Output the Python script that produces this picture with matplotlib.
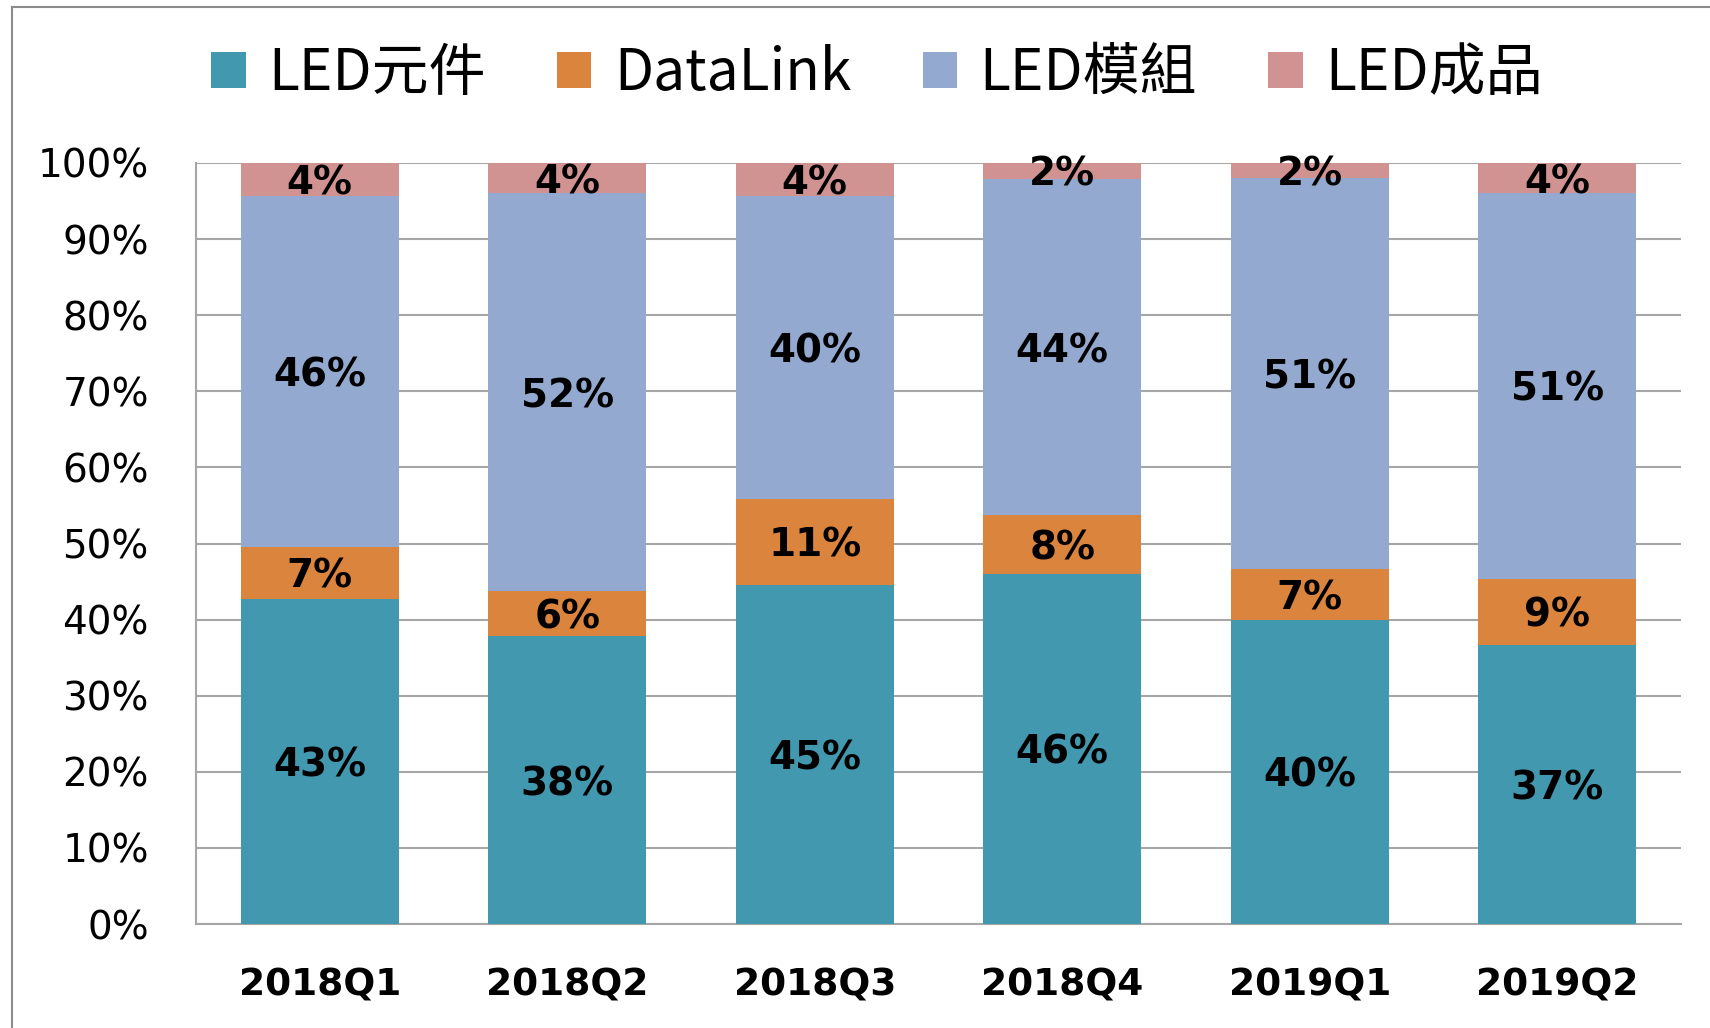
import matplotlib
matplotlib.use("Agg")
import matplotlib.pyplot as plt
import matplotlib.patches as patches
from matplotlib.lines import Line2D

# 各季營收比重 (%)
QUARTERS = ["2018Q1", "2018Q2", "2018Q3", "2018Q4", "2019Q1", "2019Q2"]
SERIES = ["LED元件", "DataLink", "LED模組", "LED成品"]
LED_PARTS = [42.7, 37.8, 44.6, 46.0, 40.0, 36.6]
DATALINK = [6.9, 5.9, 11.3, 7.7, 6.6, 8.8]
LED_MODULE = [46.1, 52.3, 39.8, 44.2, 51.4, 50.6]
LED_PRODUCT = [4.3, 4.0, 4.3, 2.1, 2.0, 4.0]
Y_TICKS = list(range(0, 101, 10))

COLORS = ["#4198AF", "#DB843D", "#93A9CF", "#D19392"]
GRID = "#A6A6A6"

plt.rcParams['font.family'] = ['DejaVu Sans', 'Noto Sans CJK TC']


def main():
    fig = plt.figure(figsize=(17.1, 10.28), dpi=100)
    ax = fig.add_axes([196 / 1710, 104 / 1028, 1485 / 1710, 761 / 1028])

    x = list(range(len(QUARTERS)))
    bottom = [0.0] * len(QUARTERS)
    handles = []
    for name, vals, col in zip(SERIES, [LED_PARTS, DATALINK, LED_MODULE, LED_PRODUCT], COLORS):
        ax.bar(x, vals, width=0.64, bottom=bottom, color=col, zorder=3, label=name)
        for xi, b, v in zip(x, bottom, vals):
            ax.text(xi, b + v / 2, "%.0f%%" % v, ha='center', va='center_baseline',
                    fontsize=28, fontweight='bold', color='black', zorder=4)
        bottom = [b + v for b, v in zip(bottom, vals)]
        handles.append(patches.Patch(facecolor=col, edgecolor='none', label=name))

    ax.set_xlim(-0.5, len(QUARTERS) - 0.5)
    ax.set_ylim(0, 100)
    ax.set_yticks(Y_TICKS)
    ax.set_yticklabels(["%d%%" % t for t in Y_TICKS], fontsize=28)
    ax.set_xticks(x)
    ax.set_xticklabels(QUARTERS, fontsize=27, fontweight='bold')
    ax.tick_params(axis='y', length=0, pad=34)
    ax.tick_params(axis='x', length=0, pad=31)
    ax.yaxis.grid(True, color=GRID, linewidth=1.5, zorder=0)
    ax.set_axisbelow(True)
    for side in ['top', 'right']:
        ax.spines[side].set_visible(False)
    for side in ['left', 'bottom']:
        ax.spines[side].set_color(GRID)
        ax.spines[side].set_linewidth(1.5)

    fig.legend(handles=handles, loc='center', bbox_to_anchor=(0.513, 0.928), ncol=4,
               frameon=False, prop={'family': ['Noto Sans CJK TC'], 'size': 41},
               handlelength=0.6, handleheight=0.6, handletextpad=0.4, columnspacing=1.25)

    # 外框
    fig.add_artist(Line2D([12 / 1710, 1.0], [1 - 7 / 1028, 1 - 7 / 1028], color='#8C8C8C', linewidth=1.5))
    fig.add_artist(Line2D([12 / 1710, 12 / 1710], [0.0, 1 - 7 / 1028], color='#8C8C8C', linewidth=1.5))

    fig.savefig("out.png", dpi=100, facecolor='white')


if __name__ == "__main__":
    main()
